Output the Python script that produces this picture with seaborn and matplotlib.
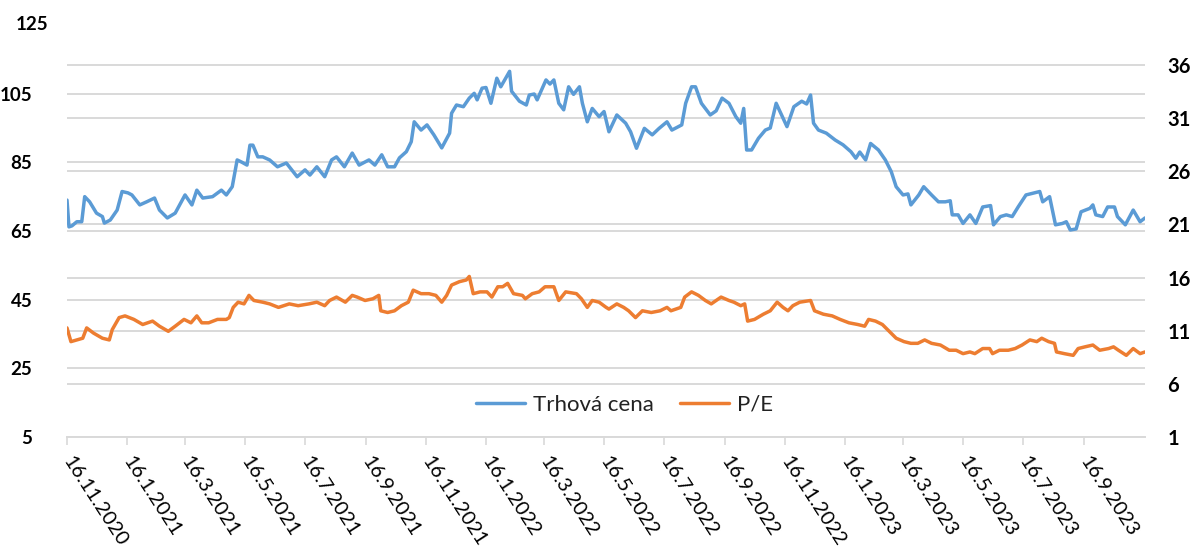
import pandas as pd
import matplotlib
matplotlib.use("Agg")
import matplotlib.pyplot as plt
import matplotlib.patheffects as pe
import seaborn as sns

# ---------------- data ----------------
START_DATE = "2020-11-16"
SERIES_NAMES = ["Trhová cena", "P/E"]

# days since 16.11.2020 and market price (left axis)
price_days = [0, 2, 5, 10, 15, 18, 23, 30, 36, 38, 44, 51, 56, 62, 66, 74, 81, 89, 94, 102,
              110, 120, 127, 132, 138, 148, 157, 162, 168, 173, 178, 183, 186, 189, 194, 199,
              206, 214, 223, 234, 242, 247, 254, 262, 269, 274, 282, 290, 297, 307, 313, 320,
              326, 333, 338, 345, 350, 353, 360, 366, 373, 381, 389, 391, 396, 403, 409, 414,
              417, 422, 426, 431, 437, 441, 446, 450, 452, 460, 467, 470, 475, 478, 487, 491,
              495, 500, 505, 510, 515, 521, 524, 529, 534, 541, 546, 551, 559, 568, 573, 579,
              587, 595, 602, 610, 615, 625, 629, 635, 639, 645, 654, 660, 666, 673, 680, 685,
              688, 691, 696, 703, 710, 715, 721, 732, 739, 747, 752, 756, 759, 764, 772, 781,
              789, 797, 802, 806, 812, 817, 825, 832, 838, 843, 850, 855, 858, 866, 871, 879,
              886, 893, 898, 900, 906, 911, 918, 924, 931, 939, 942, 949, 955, 961, 967, 975,
              982, 989, 992, 999, 1005, 1012, 1016, 1020, 1026, 1031, 1040, 1043, 1046, 1053,
              1058, 1065, 1068, 1076, 1084, 1091, 1096]
price_values = [74.0, 66.2, 66.5, 67.7, 67.7, 75.0, 73.5, 70.2, 69.2, 67.3, 68.2, 71.1, 76.5,
                76.1, 75.5, 72.6, 73.5, 74.6, 71.1, 68.8, 70.2, 75.5, 72.6, 76.9, 74.6, 75.0,
                76.9, 75.5, 77.9, 85.7, 85.0, 84.2, 90.0, 90.0, 86.6, 86.6, 85.7, 83.7, 84.8,
                80.8, 82.8, 81.3, 83.7, 80.8, 85.7, 86.6, 83.7, 87.7, 84.2, 85.7, 84.2, 87.2,
                83.7, 83.7, 86.3, 88.1, 91.0, 96.8, 94.4, 95.9, 93.0, 89.2, 93.5, 99.3, 101.7,
                101.2, 103.7, 105.1, 103.2, 106.6, 106.8, 102.2, 109.5, 107.0, 109.5, 111.5,
                105.7, 102.8, 101.7, 104.6, 104.9, 103.2, 109.0, 107.8, 109.0, 102.2, 100.3,
                107.0, 104.8, 107.0, 102.2, 96.8, 100.7, 98.3, 99.8, 93.9, 98.8, 96.4, 93.9,
                89.1, 94.9, 93.0, 94.9, 96.8, 94.4, 95.9, 102.2, 107.0, 107.0, 102.2, 98.8,
                100.0, 103.7, 102.2, 98.3, 96.4, 100.7, 88.6, 88.6, 92.0, 94.4, 95.0, 102.2,
                95.4, 101.2, 102.8, 102.0, 104.6, 96.4, 94.4, 93.5, 91.5, 90.1, 88.1, 86.2,
                88.0, 85.7, 90.5, 88.6, 85.7, 82.3, 77.9, 75.5, 75.8, 72.6, 75.5, 77.9, 75.5,
                73.5, 73.5, 73.8, 69.7, 69.7, 67.2, 69.7, 67.2, 72.0, 72.4, 66.8, 69.2, 69.7,
                69.2, 72.0, 75.5, 76.0, 76.5, 73.5, 75.0, 66.8, 67.2, 67.7, 65.3, 65.6, 70.6,
                71.6, 72.6, 69.7, 69.2, 72.0, 72.0, 69.2, 66.8, 71.1, 67.7, 68.8]

# days since 16.11.2020 and P/E (right axis)
pe_days = [0, 4, 16, 20, 27, 36, 43, 46, 53, 59, 68, 77, 87, 94, 103, 110, 119, 126, 132, 137,
           144, 153, 162, 165, 169, 174, 180, 185, 190, 199, 206, 215, 226, 235, 246, 254, 262,
           267, 274, 283, 290, 295, 303, 311, 317, 319, 326, 333, 340, 347, 352, 360, 368, 375,
           381, 386, 391, 399, 406, 409, 413, 420, 427, 432, 438, 443, 448, 454, 463, 466, 473,
           480, 486, 495, 500, 507, 518, 523, 529, 534, 541, 548, 551, 559, 566, 571, 578, 585,
           594, 603, 610, 614, 624, 628, 635, 642, 649, 655, 660, 665, 673, 678, 685, 689, 692,
           699, 708, 715, 722, 728, 733, 738, 745, 756, 760, 769, 778, 786, 795, 804, 811, 815,
           822, 829, 836, 843, 851, 858, 865, 872, 879, 888, 897, 904, 911, 918, 923, 931, 938,
           941, 948, 957, 964, 971, 979, 986, 991, 998, 1004, 1006, 1014, 1023, 1028, 1035,
           1043, 1050, 1059, 1064, 1069, 1077, 1084, 1091, 1096]
pe_values = [11.26, 9.97, 10.29, 11.26, 10.77, 10.29, 10.13, 11.10, 12.23, 12.39, 12.06, 11.58,
             11.90, 11.42, 10.94, 11.42, 12.06, 11.74, 12.39, 11.74, 11.74, 12.06, 12.06, 12.23,
             13.19, 13.68, 13.52, 14.32, 13.84, 13.68, 13.52, 13.19, 13.52, 13.35, 13.52, 13.68,
             13.35, 13.84, 14.16, 13.68, 14.32, 14.16, 13.84, 14.00, 14.32, 12.87, 12.71, 12.87,
             13.35, 13.68, 14.81, 14.48, 14.48, 14.32, 13.68, 14.32, 15.29, 15.61, 15.77, 16.10,
             14.48, 14.65, 14.65, 14.16, 15.13, 15.13, 15.45, 14.48, 14.32, 14.00, 14.48, 14.65,
             15.13, 15.13, 13.84, 14.65, 14.48, 14.00, 13.19, 13.84, 13.68, 13.20, 13.03, 13.52,
             13.19, 12.87, 12.23, 12.87, 12.71, 12.87, 13.19, 12.87, 13.19, 14.16, 14.65, 14.32,
             13.84, 13.52, 13.84, 14.16, 13.84, 13.68, 13.35, 13.52, 11.90, 12.06, 12.55, 12.87,
             13.68, 13.19, 12.87, 13.35, 13.68, 13.84, 12.87, 12.55, 12.39, 12.06, 11.74, 11.58,
             11.42, 12.06, 11.90, 11.58, 10.94, 10.29, 9.97, 9.81, 9.81, 10.13, 9.81, 9.65, 9.16,
             9.16, 8.84, 9.00, 8.84, 9.32, 9.32, 8.84, 9.16, 9.16, 9.32, 9.65, 10.13, 9.97,
             10.29, 9.97, 9.81, 9.00, 8.84, 8.68, 9.32, 9.48, 9.65, 9.16, 9.32, 9.48, 9.16, 8.68,
             9.32, 8.84, 9.00]

x_tick_dates = ["2020-11-16", "2021-01-16", "2021-03-16", "2021-05-16", "2021-07-16",
                "2021-09-16", "2021-11-16", "2022-01-16", "2022-03-16", "2022-05-16",
                "2022-07-16", "2022-09-16", "2022-11-16", "2023-01-16", "2023-03-16",
                "2023-05-16", "2023-07-16", "2023-09-16"]
x_tick_labels = ["16.11.2020", "16.1.2021", "16.3.2021", "16.5.2021", "16.7.2021",
                 "16.9.2021", "16.11.2021", "16.1.2022", "16.3.2022", "16.5.2022",
                 "16.7.2022", "16.9.2022", "16.11.2022", "16.1.2023", "16.3.2023",
                 "16.5.2023", "16.7.2023", "16.9.2023"]
left_ticks = [5, 25, 45, 65, 85, 105, 125]
right_ticks = [1, 6, 11, 16, 21, 26, 31, 36]

# ---------------- styling ----------------
sns.set_theme(style="white")
plt.rcParams["font.family"] = ["Lato", "DejaVu Sans"]

BLUE = "#5B9BD5"
ORANGE = "#ED7D31"
GRID = "#D9D9D9"
LEFT_LIM = (5, 125)
RIGHT_LIM = (1, 39.75)

start = pd.Timestamp(START_DATE)
df_price = pd.DataFrame({"date": start + pd.to_timedelta(price_days, unit="D"),
                         "value": price_values})
df_pe = pd.DataFrame({"date": start + pd.to_timedelta(pe_days, unit="D"),
                      "value": pe_values})
tick_dates = pd.to_datetime(x_tick_dates)
xmin = start
xmax = start + pd.Timedelta(days=max(price_days))

W, H = 1194, 551
rect = [67 / W, 1 - 437 / H, (1145 - 67) / W, (437 - 25) / H]
fig = plt.figure(figsize=(W / 100, H / 100), dpi=100)
fig.patch.set_facecolor("white")

# back axes: right-scale grid lines only
ax_back = fig.add_axes(rect)
ax_back.set_ylim(*RIGHT_LIM)
ax_back.set_yticks(right_ticks[1:])
ax_back.yaxis.grid(True, color=GRID, lw=1.4)
ax_back.xaxis.grid(False)
ax_back.tick_params(left=False, labelleft=False, bottom=False, labelbottom=False)
for s in ax_back.spines.values():
    s.set_visible(False)

# main (left) axes
ax = fig.add_axes(rect)
ax.patch.set_alpha(0)
shadow = [pe.SimpleLineShadow(offset=(1.2, -2.6), shadow_color="black", alpha=0.14,
                              linewidth=5.0), pe.Normal()]
sns.lineplot(data=df_price, x="date", y="value", ax=ax, color=BLUE, lw=2.5,
             label=SERIES_NAMES[0], legend=False, path_effects=shadow)

# right axes with P/E
ax2 = ax.twinx()
sns.lineplot(data=df_pe, x="date", y="value", ax=ax2, color=ORANGE, lw=2.5,
             label=SERIES_NAMES[1], legend=False, path_effects=shadow)

ax.set_ylim(*LEFT_LIM)
ax.set_xlim(xmin, xmax)
ax.set_yticks(left_ticks[:-1])
ax.yaxis.grid(True, color=GRID, lw=1.4)
ax.xaxis.grid(False)
ax.set_axisbelow(True)
ax.set_xlabel("")
ax.set_ylabel("")
ax.set_xticks(tick_dates)
ax.set_xticklabels(x_tick_labels, rotation=-57, ha="left", va="center",
                   rotation_mode="anchor", fontsize=14.5, color="#000000")
ax.tick_params(axis="x", bottom=True, length=6, width=1.2, color=GRID, pad=9)
ax.tick_params(axis="y", left=False, right=False, pad=19, labelsize=13.5,
               labelcolor="#000000")
for lab in ax.get_yticklabels():
    lab.set_fontweight("bold")
for side in ["left", "right", "top"]:
    ax.spines[side].set_visible(False)
ax.spines["bottom"].set_color(GRID)
ax.spines["bottom"].set_linewidth(1.4)
# label at top of left scale (no grid line there in the reference)
ax.text(-19 / 1078, 1.0, str(left_ticks[-1]), transform=ax.transAxes, ha="right",
        va="center", fontsize=13.5, fontweight="bold", color="#000000")

ax2.set_ylim(*RIGHT_LIM)
ax2.set_yticks(right_ticks)
ax2.grid(False)
ax2.set_ylabel("")
ax2.tick_params(axis="y", left=False, right=False, pad=10, labelsize=14.5,
                labelcolor="#000000")
for lab in ax2.get_yticklabels():
    lab.set_fontweight("bold")
for s in ax2.spines.values():
    s.set_visible(False)

# legend
h1, l1 = ax.get_legend_handles_labels()
h2, l2 = ax2.get_legend_handles_labels()
handles = h1 + h2
for h in handles:
    h.set_path_effects([])
leg = ax2.legend(handles, l1 + l2, loc="center", bbox_to_anchor=(0.517, 0.078), ncol=2,
                 frameon=False, fontsize=16, handlelength=2.2, handletextpad=0.35,
                 columnspacing=1.2)
for t in leg.get_texts():
    t.set_color("#222222")

fig.savefig("out.png", dpi=100, facecolor="white")
